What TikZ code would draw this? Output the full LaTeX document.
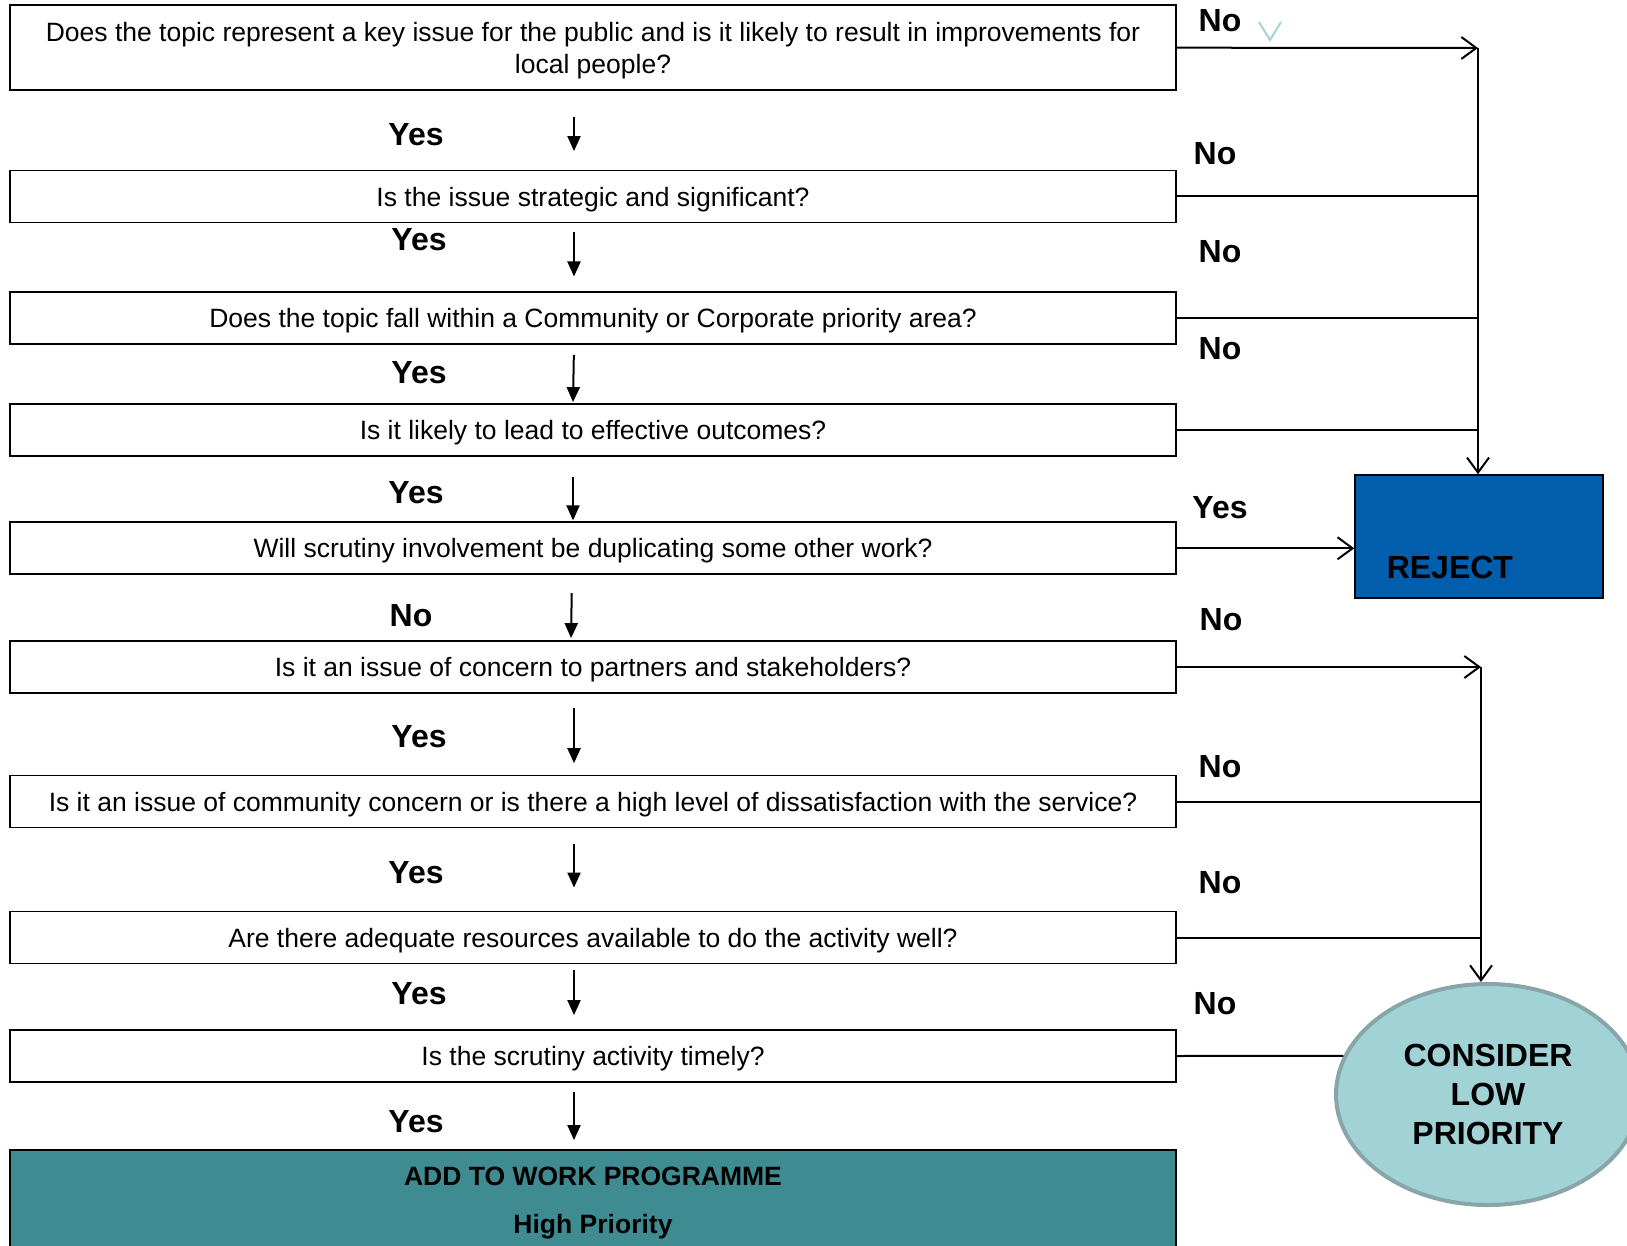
\documentclass[tikz,border=0pt]{standalone}
\usepackage{fontspec}
\setmainfont{Liberation Sans}
\usetikzlibrary{arrows.meta,shapes.geometric}
\definecolor{progteal}{RGB}{62,140,146}
\definecolor{rejectblue}{RGB}{0,94,172}
\definecolor{lowfill}{RGB}{160,210,214}
\definecolor{lowedge}{RGB}{136,165,168}
\definecolor{tickblue}{RGB}{160,212,216}
\begin{document}
\begin{tikzpicture}[x=1pt, y=-1pt, line width=2pt,
  question/.style={draw, line width=1.8pt, minimum width=1166pt, minimum height=52pt, inner sep=0pt, text depth=0pt, align=center, font=\fontsize{26.5}{32}\selectfont},
  answer/.style={inner sep=0pt, font=\fontsize{32}{39}\selectfont\bfseries},
  down/.style={-{Triangle[length=15pt,width=13pt]}},
  side/.style={-{Straight Barb[length=15pt,width=22pt]}}]
\useasboundingbox (0,0) rectangle (1627,1246);
\begin{scope}
\node[question, minimum height=85pt] (b1) at (593,47.7) {Does the topic represent a key issue for the public and is it likely to result in improvements for\\local people?};
\node[question] (b2) at (593,196.5) {Is the issue strategic and significant?};
\node[question] (b3) at (593,318) {Does the topic fall within a Community or Corporate priority area?};
\node[question] (b4) at (593,430) {Is it likely to lead to effective outcomes?};
\node[question] (b5) at (593,548.3) {Will scrutiny involvement be duplicating some other work?};
\node[question] (b6) at (593,667) {Is it an issue of concern to partners and stakeholders?};
\node[question] (b7) at (593,801.5) {Is it an issue of community concern or is there a high level of dissatisfaction with the service?};
\node[question] (b8) at (593,937.5) {Are there adequate resources available to do the activity well?};
\node[question] (b9) at (593,1056) {Is the scrutiny activity timely?};
\node[question, fill=progteal, minimum height=101.6pt, font=\fontsize{26.5}{32}\selectfont\bfseries] (b10) at (593,1200.5) {ADD TO WORK PROGRAMME\\[16pt]High Priority};
\node[draw, line width=1.5pt, fill=rejectblue, minimum width=248pt, minimum height=123pt, inner sep=0pt, font=\fontsize{32}{39}\selectfont\bfseries] (reject) at (1479,536.5) {\makebox[184.5pt][l]{\raisebox{-41.5pt}[0pt][0pt]{REJECT}}};
\node[ellipse, draw=lowedge, line width=4pt, fill=lowfill, minimum width=304pt, minimum height=221pt, inner sep=0pt, align=center, font=\fontsize{32}{39}\selectfont\bfseries] (cons) at (1488,1094.5) {CONSIDER\\LOW\\PRIORITY};
\coordinate (rj) at (1478,48);
\coordinate (lp) at (1481,667);
\end{scope}
\begin{scope}[every node/.style={answer}]
\node (l1) at (416,135) {Yes};
\node (l2) at (419,240) {Yes};
\node (l3) at (419,372.5) {Yes};
\node (l4) at (416,493) {Yes};
\node (l5) at (411,616) {No};
\node (l6) at (419,736.7) {Yes};
\node (l7) at (416,872.6) {Yes};
\node (l8) at (419,994) {Yes};
\node (l9) at (416,1121.6) {Yes};
\node (r1) at (1220,21) {No};
\node (r2) at (1215,154) {No};
\node (r3) at (1220,252) {No};
\node (r4) at (1220,349) {No};
\node (r5) at (1220,508) {Yes};
\node (r6) at (1221,620) {No};
\node (r7) at (1220,767) {No};
\node (r8) at (1220,883) {No};
\node (r9) at (1215,1004) {No};
\end{scope}
\begin{scope}
\draw[down, shorten <=26pt, shorten >=18.5pt] ([xshift=-19pt]b1.south) -- ([xshift=-19pt]b2.north);
\draw[down, shorten <=9pt, shorten >=14.6pt] ([xshift=-19pt]b2.south) -- ([xshift=-19pt]b3.north);
\draw[down, shorten <=10pt, shorten >=1pt] ([xshift=-19pt]b3.south) -- ([xshift=-20pt]b4.north);
\draw[down, shorten <=20pt, shorten >=1pt] ([xshift=-20pt]b4.south) -- ([xshift=-20pt]b5.north);
\draw[down, shorten <=18pt, shorten >=2pt] ([xshift=-21pt]b5.south) -- ([xshift=-22pt]b6.north);
\draw[down, shorten <=14.5pt, shorten >=11.4pt] ([xshift=-19pt]b6.south) -- ([xshift=-19pt]b7.north);
\draw[down, shorten <=15.5pt, shorten >=23pt] ([xshift=-19pt]b7.south) -- ([xshift=-19pt]b8.north);
\draw[down, shorten <=6pt, shorten >=14pt] ([xshift=-19pt]b8.south) -- ([xshift=-19pt]b9.north);
\draw[down, shorten <=9.5pt, shorten >=8.7pt] ([xshift=-19pt]b9.south) -- ([xshift=-19pt]b10.north);
\draw[side] (b1.east) -- (rj);
\draw[side] (rj) -- (rj |- reject.north);
\draw (b2.east) -- (b2.east -| rj);
\draw (b3.east) -- (b3.east -| rj);
\draw (b4.east) -- (b4.east -| rj);
\draw[side] (b5.east) -- (b5.east -| reject.west);
\draw[side] (b6.east) -- (lp);
\draw[side] (lp) -- (lp |- cons.north);
\draw (b7.east) -- (b7.east -| lp);
\draw (b8.east) -- (b8.east -| lp);
\draw (b9.east) -- (cons.165);
%\draw (b) -- (b);
\draw[tickblue] (1259,22) -- (1270,40) -- (1281,22);
\end{scope}
\end{tikzpicture}
\end{document}
